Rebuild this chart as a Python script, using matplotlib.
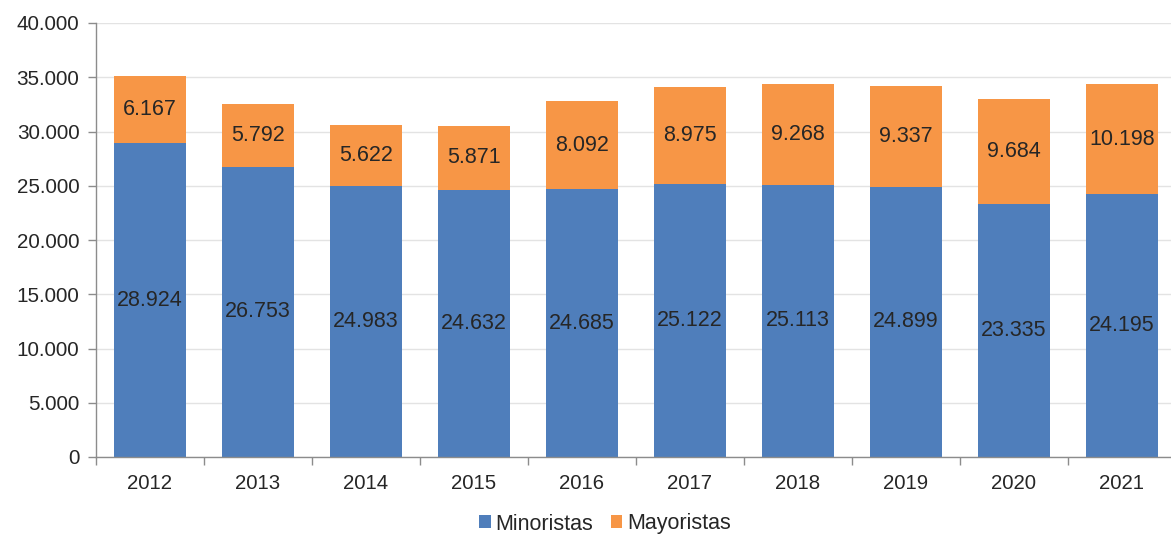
import matplotlib
matplotlib.use("Agg")
import matplotlib.pyplot as plt
from matplotlib.ticker import FuncFormatter, FixedLocator
import numpy as np

years = ["2012", "2013", "2014", "2015", "2016", "2017", "2018", "2019", "2020", "2021"]
minoristas = [28924, 26753, 24983, 24632, 24685, 25122, 25113, 24899, 23335, 24195]
mayoristas = [6167, 5792, 5622, 5871, 8092, 8975, 9268, 9337, 9684, 10198]

BLUE = "#4F7EBB"
ORANGE = "#F79646"
TEXT = "#262626"
AXIS = "#8C8C8C"
GRID = "#E3E3E3"

plt.rcParams["font.family"] = ["Liberation Sans", "DejaVu Sans"]

fig = plt.figure(figsize=(11.71, 5.37), dpi=100)
ax = fig.add_axes([96 / 1171, 1 - 457 / 537, 1080 / 1171, 434 / 537])

x = np.arange(len(years))
w = 0.67
b1 = ax.bar(x, minoristas, w, color=BLUE, label="Minoristas", zorder=2)
b2 = ax.bar(x, mayoristas, w, bottom=minoristas, color=ORANGE, label="Mayoristas", zorder=2)

fmt = lambda v: f"{v:,}".replace(",", ".")
for xi, m, M in zip(x, minoristas, mayoristas):
    ax.text(xi, m / 2, fmt(m), ha="center", va="center", fontsize=15.5, color=TEXT, zorder=3)
    ax.text(xi, m + M / 2, fmt(M), ha="center", va="center", fontsize=15.5, color=TEXT, zorder=3)

ax.set_xlim(-0.5, len(years) - 0.5)
ax.set_ylim(0, 40000)
ax.set_yticks(np.arange(0, 40001, 5000))
ax.yaxis.set_major_formatter(FuncFormatter(lambda v, p: fmt(int(v))))
ax.yaxis.grid(True, color=GRID, linewidth=1, zorder=0)

ax.set_xticks(x)
ax.set_xticklabels(years)
ax.xaxis.set_minor_locator(FixedLocator(np.arange(-0.5, len(years), 1)))
ax.tick_params(axis="x", which="major", length=0, pad=12, labelsize=14.7, labelcolor=TEXT)
ax.tick_params(axis="x", which="minor", length=6, color=AXIS, width=1)
ax.tick_params(axis="y", length=6, color=AXIS, width=1, pad=6, labelsize=14.9, labelcolor=TEXT)

for s in ["top", "right"]:
    ax.spines[s].set_visible(False)
for s in ["left", "bottom"]:
    ax.spines[s].set_color(AXIS)
    ax.spines[s].set_linewidth(1)

fig.legend(handles=[b1, b2], labels=["Minoristas", "Mayoristas"], loc="center",
           bbox_to_anchor=(605 / 1171, 1 - 524 / 537), ncol=2, frameon=False,
           fontsize=15.5, handlelength=0.55, handleheight=0.55, handletextpad=0.2,
           columnspacing=0.8, labelcolor=TEXT)

fig.savefig("out.png", dpi=100, facecolor="white")
